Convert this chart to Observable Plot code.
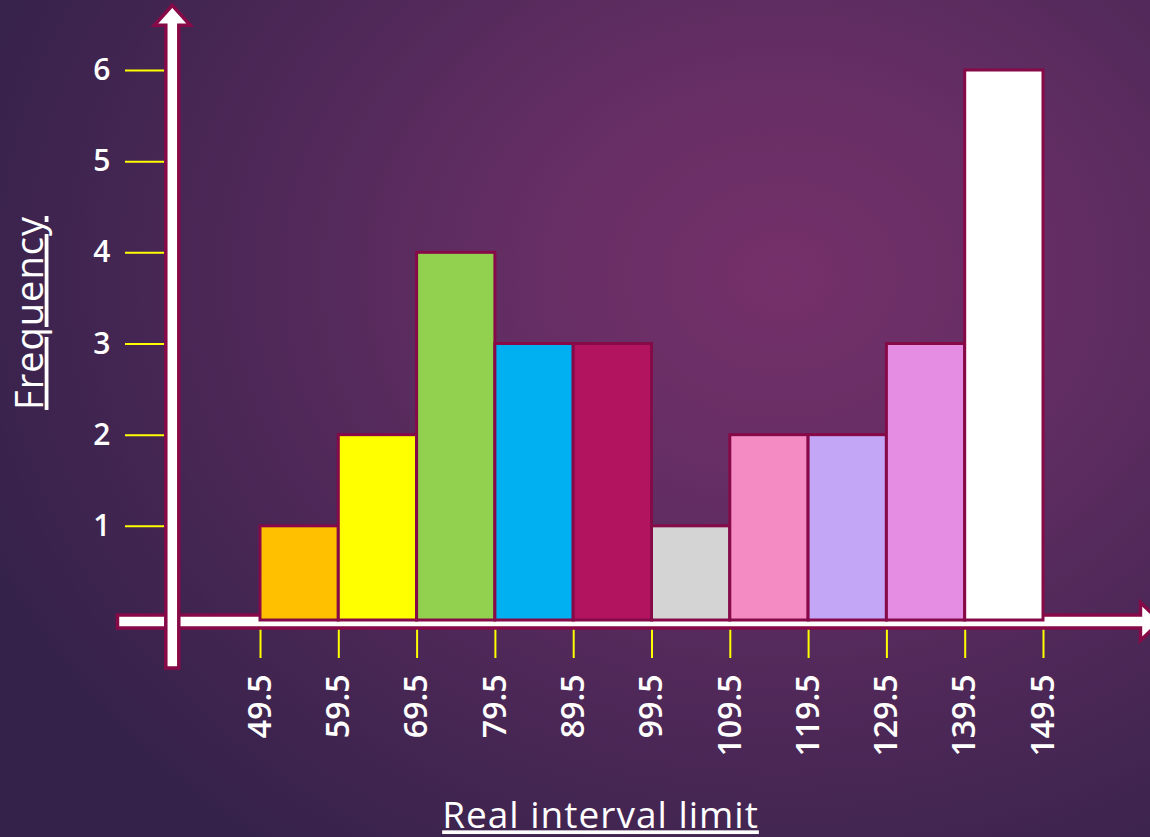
<!DOCTYPE html>
<html>
<head>
<meta charset="utf-8">
<script src="https://cdn.jsdelivr.net/npm/d3@7"></script>
<script src="https://cdn.jsdelivr.net/npm/@observablehq/plot@0.6"></script>
<style>
  html, body { margin: 0; padding: 0; }
  body {
    width: 1150px; height: 837px; overflow: hidden;
    background: radial-gradient(ellipse 75% 85% at 68% 33%, #75306a 0%, #652e64 30%, #4e2858 62%, #35224a 100%);
  }
  svg { display: block; }
</style>
</head>
<body>
<div id="chart"></div>
<script>
// Real class limits (bar edges) and the frequency of each class
const limits = [49.5, 59.5, 69.5, 79.5, 89.5, 99.5, 109.5, 119.5, 129.5, 139.5, 149.5];
const frequencies = [1, 2, 4, 3, 3, 1, 2, 2, 3, 6];
const barColors = ["#FFC000", "#FFFF00", "#92D050", "#00B0F0", "#B3145F", "#D4D4D4", "#F48BC3", "#C4A6F7", "#E48DE3", "#FFFFFF"];
const yTicks = [1, 2, 3, 4, 5, 6];
const xTitle = "Real interval limit";
const yTitle = "Frequency";

// Where the hand-drawn axis arrows sit and how far they run (data units)
const axisCrossX = 38.3;              // vertical axis position on x
const xAxisFrom = 31.3, xAxisTo = 164.5;
const yAxisFrom = -0.56, yAxisTo = 6.71;

const outline = "#870A48";
const tickYellow = "#FFFF00";

const bars = frequencies.map((f, i) => ({
  x1: limits[i], x2: limits[i + 1], f, color: barColors[i]
}));

// Thick white axis with a crimson outline and a filled arrowhead
function axisArrows(index, scales) {
  const {x, y} = scales;
  const g = d3.create("svg:g");
  const y0 = y(0) + 4.5;
  const xa = x(axisCrossX);
  const half = 6.5;

  // horizontal axis
  const hx1 = x(xAxisFrom), hx2 = x(xAxisTo) - 20;
  g.append("path")
    .attr("d", `M${hx1},${y0 - half} H${hx2} V${y0 - 19} L${x(xAxisTo)},${y0} L${hx2},${y0 + 19} V${y0 + half} H${hx1} Z`)
    .attr("fill", "white").attr("stroke", outline).attr("stroke-width", 3.5)
    .attr("stroke-linejoin", "miter");

  // vertical axis
  const vy1 = y(yAxisFrom), vy2 = y(yAxisTo) + 20;
  g.append("path")
    .attr("d", `M${xa - half},${vy1} V${vy2} H${xa - 18} L${xa},${y(yAxisTo)} L${xa + 18},${vy2} H${xa + half} V${vy1} Z`)
    .attr("fill", "white").attr("stroke", outline).attr("stroke-width", 3.5)
    .attr("stroke-linejoin", "miter");
  return g.node();
}

const chart = Plot.plot({
  width: 1150,
  height: 837,
  marginLeft: 260,
  marginRight: 107,
  marginTop: 70,
  marginBottom: 220,
  style: {background: "transparent", color: "white", fontFamily: "'Open Sans', sans-serif", overflow: "visible"},
  x: {domain: [49.5, 149.5], label: null},
  y: {domain: [0, 6], label: null},
  marks: [
    Plot.axisX({
      ticks: limits, tickSize: 41, tickPadding: 16, tickRotate: -90,
      tickFormat: d => d.toFixed(1),
      stroke: tickYellow, strokeWidth: 2, color: "white",
      fontSize: 32, fontWeight: 600, label: null
    }),
    Plot.axisY({
      ticks: yTicks, anchor: "left", tickSize: 46, tickPadding: 15, dx: -89,
      tickFormat: d => String(d),
      stroke: tickYellow, strokeWidth: 2, color: "white",
      fontSize: 30, fontWeight: 600, label: null
    }),
    axisArrows,
    Plot.rectY(bars, {
      x1: "x1", x2: "x2", y: "f", fill: "color",
      stroke: outline, strokeWidth: 3, insetBottom: -3
    }),
    Plot.text([yTitle], {
      frameAnchor: "left", rotate: -90, dx: -230, dy: -31,
      fontSize: 38, fill: "white", textAnchor: "middle", lineAnchor: "middle"
    }),
    Plot.text([xTitle], {
      frameAnchor: "bottom", dx: -51.5, dy: 199,
      fontSize: 37, fill: "white", textAnchor: "middle", lineAnchor: "middle"
    })
  ]
});

document.getElementById("chart").append(chart);

// underline the two axis titles and open up their letter spacing a little
d3.select(chart).selectAll("text")
  .filter(function () { return this.textContent === xTitle || this.textContent === yTitle; })
  .style("text-decoration", "underline")
  .style("letter-spacing", "1px");
</script>
</body>
</html>
